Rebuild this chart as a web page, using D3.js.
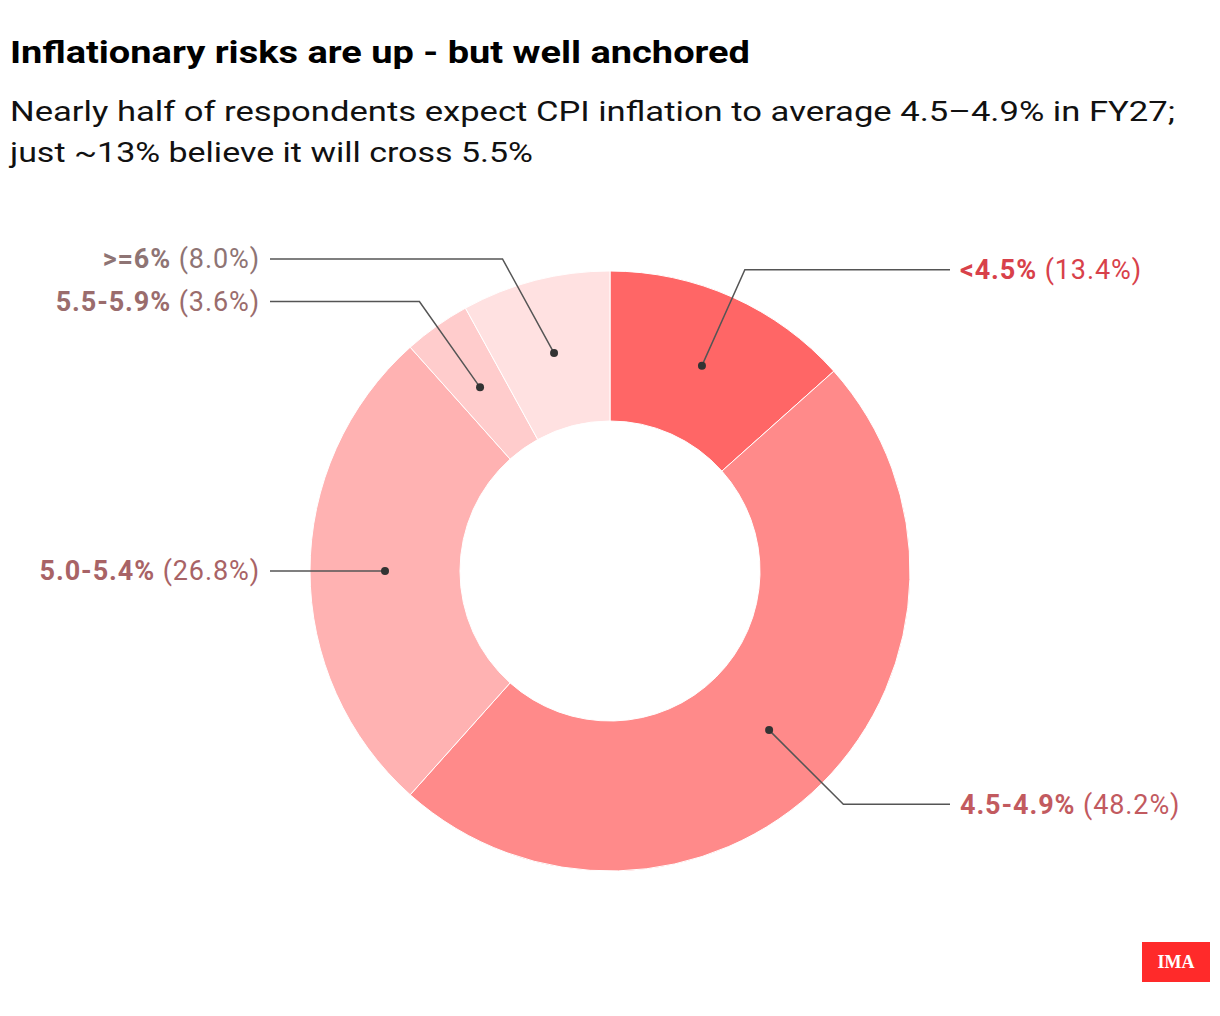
<!DOCTYPE html>
<html>
<head>
<meta charset="utf-8">
<script src="https://cdn.jsdelivr.net/npm/d3@7"></script>
<style>
  html, body { margin: 0; padding: 0; background: #fff; }
  svg text { font-family: Roboto, "Liberation Sans", sans-serif; }
</style>
</head>
<body>
<div id="chart"></div>
<script>
// data
const categories = ["<4.5%", "4.5-4.9%", "5.0-5.4%", "5.5-5.9%", ">=6%"];
const shares = [13.4, 48.2, 26.8, 3.6, 8.0];
const sliceColors = ["#ff6666", "#ff8a8a", "#ffb2b2", "#ffcccc", "#ffe1e1"];
const labelColors = ["#d8414a", "#c25a5f", "#a86366", "#9a6c6c", "#8e7474"];

const title = "Inflationary risks are up - but well anchored";
const subtitle = [
  "Nearly half of respondents expect CPI inflation to average 4.5\u20134.9% in FY27;",
  "just ~13% believe it will cross 5.5%"
];

const width = 1220, height = 1016;
const cx = 610, cy = 571;
const rOuter = 300, rInner = 150;
const rElbow = 330, lineEnd = 340, textGap = 10;

const svg = d3.select("#chart").append("svg")
  .attr("width", width)
  .attr("height", height)
  .attr("viewBox", [0, 0, width, height]);

// 标题
svg.append("text")
  .attr("x", 10).attr("y", 63)
  .attr("font-size", 32).attr("font-weight", 700)
  .attr("fill", "#000")
  .attr("textLength", 740).attr("lengthAdjust", "spacingAndGlyphs")
  .text(title);

svg.selectAll(".sub")
  .data(subtitle)
  .join("text")
  .attr("class", "sub")
  .attr("x", 10)
  .attr("y", (d, i) => 121 + i * 41)
  .attr("font-size", 28)
  .attr("fill", "#111")
  .attr("textLength", (d, i) => i === 0 ? 1165 : 523)
  .attr("lengthAdjust", "spacingAndGlyphs")
  .text(d => d);

// 饼图
const data = categories.map((c, i) => ({cat: c, value: shares[i], color: sliceColors[i], lc: labelColors[i]}));
const pie = d3.pie().value(d => d.value).sort(null);
const arcs = pie(data);
const arc = d3.arc().innerRadius(rInner).outerRadius(rOuter);

const g = svg.append("g").attr("transform", `translate(${cx},${cy})`);

g.selectAll("path")
  .data(arcs)
  .join("path")
  .attr("d", arc)
  .attr("fill", d => d.data.color)
  .attr("stroke", "#fff")
  .attr("stroke-width", 1);

// label layout
const minY = -(rOuter + 12);
arcs.forEach(d => {
  const a = (d.startAngle + d.endAngle) / 2;
  d.c = arc.centroid(d);
  let y = -rElbow * Math.cos(a);
  if (y < minY) y = minY;
  const side = Math.sin(a) >= 0 ? 1 : -1;
  d.side = side;
  d.ly = y;
  d.ex = side * Math.sqrt(Math.max(0, rElbow * rElbow - y * y));
});

g.selectAll("polyline")
  .data(arcs)
  .join("polyline")
  .attr("points", d => {
    if (Math.abs(d.c[1] - d.ly) < 2) return [[d.c[0], d.c[1]], [d.side * lineEnd, d.c[1]]].join(" ");
    return [[d.c[0], d.c[1]], [d.ex, d.ly], [d.side * lineEnd, d.ly]].join(" ");
  })
  .attr("fill", "none")
  .attr("stroke", "#555")
  .attr("stroke-width", 1.5);

g.selectAll("circle")
  .data(arcs)
  .join("circle")
  .attr("cx", d => d.c[0])
  .attr("cy", d => d.c[1])
  .attr("r", 4)
  .attr("fill", "#333");

const labels = g.selectAll("text.lbl")
  .data(arcs)
  .join("text")
  .attr("class", "lbl")
  .attr("x", d => d.side * (lineEnd + textGap))
  .attr("y", d => d.ly)
  .attr("dy", "0.35em")
  .attr("font-size", 27)
  .attr("letter-spacing", 0.9)
  .attr("text-anchor", d => d.side > 0 ? "start" : "end")
  .attr("fill", d => d.data.lc);

labels.append("tspan").attr("font-weight", 700).text(d => d.data.cat);
labels.append("tspan").text(d => " (" + d.data.value.toFixed(1) + "%)");

// logo
const logo = svg.append("g").attr("transform", "translate(1142,942)");
logo.append("rect").attr("width", 68).attr("height", 40).attr("fill", "#ff2a2a");
logo.append("text")
  .attr("x", 34).attr("y", 26)
  .attr("text-anchor", "middle")
  .style("font-family", "'Liberation Serif', 'DejaVu Serif', serif")
  .attr("font-size", 18).attr("font-weight", 700)
  .attr("fill", "#fff")
  .text("IMA");
</script>
</body>
</html>
